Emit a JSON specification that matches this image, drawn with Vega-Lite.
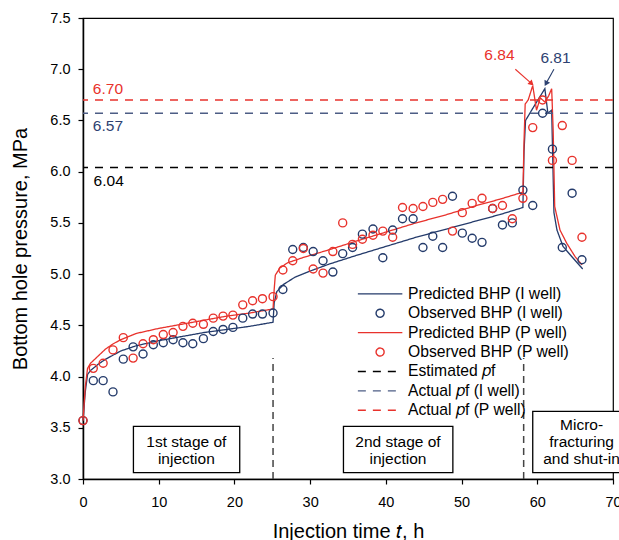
{
  "$schema": "https://vega.github.io/schema/vega-lite/v6.json",
  "width": 530,
  "height": 461,
  "autosize": {"type": "none"},
  "padding": {"left": 83, "top": 18, "right": 6, "bottom": 61},
  "background": "white",
  "config": {
    "view": {"stroke": "#000", "strokeWidth": 1.2},
    "font": "Liberation Sans",
    "axis": {
      "grid": false, "domainColor": "#000", "domainWidth": 1.5, "tickColor": "#000", "tickSize": 5, "tickWidth": 1.2,
      "labelColor": "#000", "labelFont": "Liberation Sans", "labelFontSize": 14.5, "labelPadding": 8, "labelFlush": false,
      "titleColor": "#000", "titleFont": "Liberation Sans", "titleFontSize": 20, "titleFontWeight": "normal"
    },
    "legend": {
      "orient": "none", "legendX": 267, "legendY": 268, "direction": "vertical", "title": null,
      "labelFont": "Liberation Sans", "labelFontSize": 15.7, "labelColor": "#000", "labelLimit": 300,
      "padding": 0, "rowPadding": 2.4, "symbolOffset": 22.25, "labelOffset": 20,
      "symbolSize": 64, "symbolStrokeWidth": 1.4, "symbolFillColor": "transparent"
    }
  },
  "datasets": {
    "pred": [
      {"t": 0, "p": 3.57, "series": "Predicted BHP (I well)"},
      {"t": 0.3, "p": 3.85, "series": "Predicted BHP (I well)"},
      {"t": 0.6, "p": 4.02, "series": "Predicted BHP (I well)"},
      {"t": 1, "p": 4.06, "series": "Predicted BHP (I well)"},
      {"t": 2, "p": 4.12, "series": "Predicted BHP (I well)"},
      {"t": 3, "p": 4.17, "series": "Predicted BHP (I well)"},
      {"t": 4, "p": 4.21, "series": "Predicted BHP (I well)"},
      {"t": 5, "p": 4.25, "series": "Predicted BHP (I well)"},
      {"t": 7, "p": 4.30, "series": "Predicted BHP (I well)"},
      {"t": 10, "p": 4.35, "series": "Predicted BHP (I well)"},
      {"t": 13, "p": 4.39, "series": "Predicted BHP (I well)"},
      {"t": 16, "p": 4.43, "series": "Predicted BHP (I well)"},
      {"t": 19, "p": 4.46, "series": "Predicted BHP (I well)"},
      {"t": 22, "p": 4.49, "series": "Predicted BHP (I well)"},
      {"t": 25.1, "p": 4.53, "series": "Predicted BHP (I well)"},
      {"t": 25.25, "p": 4.72, "series": "Predicted BHP (I well)"},
      {"t": 25.6, "p": 4.83, "series": "Predicted BHP (I well)"},
      {"t": 26.5, "p": 4.90, "series": "Predicted BHP (I well)"},
      {"t": 28, "p": 4.97, "series": "Predicted BHP (I well)"},
      {"t": 30, "p": 5.03, "series": "Predicted BHP (I well)"},
      {"t": 32.6, "p": 5.10, "series": "Predicted BHP (I well)"},
      {"t": 36, "p": 5.18, "series": "Predicted BHP (I well)"},
      {"t": 40, "p": 5.27, "series": "Predicted BHP (I well)"},
      {"t": 44, "p": 5.36, "series": "Predicted BHP (I well)"},
      {"t": 48, "p": 5.44, "series": "Predicted BHP (I well)"},
      {"t": 52, "p": 5.52, "series": "Predicted BHP (I well)"},
      {"t": 55, "p": 5.58, "series": "Predicted BHP (I well)"},
      {"t": 58.1, "p": 5.65, "series": "Predicted BHP (I well)"},
      {"t": 58.25, "p": 6.2, "series": "Predicted BHP (I well)"},
      {"t": 58.45, "p": 6.50, "series": "Predicted BHP (I well)"},
      {"t": 59.5, "p": 6.63, "series": "Predicted BHP (I well)"},
      {"t": 61.0, "p": 6.81, "series": "Predicted BHP (I well)"},
      {"t": 61.4, "p": 6.57, "series": "Predicted BHP (I well)"},
      {"t": 61.9, "p": 6.60, "series": "Predicted BHP (I well)"},
      {"t": 62.05, "p": 6.1, "series": "Predicted BHP (I well)"},
      {"t": 62.2, "p": 5.60, "series": "Predicted BHP (I well)"},
      {"t": 62.6, "p": 5.43, "series": "Predicted BHP (I well)"},
      {"t": 63.4, "p": 5.27, "series": "Predicted BHP (I well)"},
      {"t": 64.8, "p": 5.15, "series": "Predicted BHP (I well)"},
      {"t": 66.0, "p": 5.05, "series": "Predicted BHP (I well)"},
      {"t": 0, "p": 3.57, "series": "Predicted BHP (P well)"},
      {"t": 0.3, "p": 3.9, "series": "Predicted BHP (P well)"},
      {"t": 0.6, "p": 4.08, "series": "Predicted BHP (P well)"},
      {"t": 1, "p": 4.13, "series": "Predicted BHP (P well)"},
      {"t": 2, "p": 4.20, "series": "Predicted BHP (P well)"},
      {"t": 3, "p": 4.27, "series": "Predicted BHP (P well)"},
      {"t": 4, "p": 4.32, "series": "Predicted BHP (P well)"},
      {"t": 5, "p": 4.36, "series": "Predicted BHP (P well)"},
      {"t": 7, "p": 4.42, "series": "Predicted BHP (P well)"},
      {"t": 10, "p": 4.47, "series": "Predicted BHP (P well)"},
      {"t": 13, "p": 4.51, "series": "Predicted BHP (P well)"},
      {"t": 16, "p": 4.55, "series": "Predicted BHP (P well)"},
      {"t": 19, "p": 4.59, "series": "Predicted BHP (P well)"},
      {"t": 22, "p": 4.62, "series": "Predicted BHP (P well)"},
      {"t": 25.1, "p": 4.66, "series": "Predicted BHP (P well)"},
      {"t": 25.25, "p": 4.85, "series": "Predicted BHP (P well)"},
      {"t": 25.4, "p": 4.99, "series": "Predicted BHP (P well)"},
      {"t": 26, "p": 5.06, "series": "Predicted BHP (P well)"},
      {"t": 27, "p": 5.11, "series": "Predicted BHP (P well)"},
      {"t": 29, "p": 5.16, "series": "Predicted BHP (P well)"},
      {"t": 32.6, "p": 5.24, "series": "Predicted BHP (P well)"},
      {"t": 36, "p": 5.32, "series": "Predicted BHP (P well)"},
      {"t": 40, "p": 5.41, "series": "Predicted BHP (P well)"},
      {"t": 44, "p": 5.50, "series": "Predicted BHP (P well)"},
      {"t": 48, "p": 5.58, "series": "Predicted BHP (P well)"},
      {"t": 52, "p": 5.67, "series": "Predicted BHP (P well)"},
      {"t": 55, "p": 5.73, "series": "Predicted BHP (P well)"},
      {"t": 58.1, "p": 5.80, "series": "Predicted BHP (P well)"},
      {"t": 58.25, "p": 6.3, "series": "Predicted BHP (P well)"},
      {"t": 58.4, "p": 6.66, "series": "Predicted BHP (P well)"},
      {"t": 58.8, "p": 6.70, "series": "Predicted BHP (P well)"},
      {"t": 59.4, "p": 6.84, "series": "Predicted BHP (P well)"},
      {"t": 59.9, "p": 6.60, "series": "Predicted BHP (P well)"},
      {"t": 60.4, "p": 6.72, "series": "Predicted BHP (P well)"},
      {"t": 61.0, "p": 6.68, "series": "Predicted BHP (P well)"},
      {"t": 61.5, "p": 6.74, "series": "Predicted BHP (P well)"},
      {"t": 61.9, "p": 6.81, "series": "Predicted BHP (P well)"},
      {"t": 62.1, "p": 6.4, "series": "Predicted BHP (P well)"},
      {"t": 62.3, "p": 5.66, "series": "Predicted BHP (P well)"},
      {"t": 63.0, "p": 5.43, "series": "Predicted BHP (P well)"},
      {"t": 63.9, "p": 5.30, "series": "Predicted BHP (P well)"},
      {"t": 65.0, "p": 5.17, "series": "Predicted BHP (P well)"},
      {"t": 65.9, "p": 5.09, "series": "Predicted BHP (P well)"}
    ],
    "obs": [
      {"t": 0, "p": 3.57, "series": "Observed BHP (I well)"},
      {"t": 1.36, "p": 3.96, "series": "Observed BHP (I well)"},
      {"t": 2.66, "p": 3.96, "series": "Observed BHP (I well)"},
      {"t": 3.96, "p": 3.85, "series": "Observed BHP (I well)"},
      {"t": 5.32, "p": 4.17, "series": "Observed BHP (I well)"},
      {"t": 6.62, "p": 4.29, "series": "Observed BHP (I well)"},
      {"t": 7.93, "p": 4.22, "series": "Observed BHP (I well)"},
      {"t": 9.29, "p": 4.31, "series": "Observed BHP (I well)"},
      {"t": 10.6, "p": 4.33, "series": "Observed BHP (I well)"},
      {"t": 11.9, "p": 4.36, "series": "Observed BHP (I well)"},
      {"t": 13.2, "p": 4.33, "series": "Observed BHP (I well)"},
      {"t": 14.5, "p": 4.32, "series": "Observed BHP (I well)"},
      {"t": 15.9, "p": 4.37, "series": "Observed BHP (I well)"},
      {"t": 17.2, "p": 4.44, "series": "Observed BHP (I well)"},
      {"t": 18.5, "p": 4.46, "series": "Observed BHP (I well)"},
      {"t": 19.8, "p": 4.48, "series": "Observed BHP (I well)"},
      {"t": 21.1, "p": 4.57, "series": "Observed BHP (I well)"},
      {"t": 22.4, "p": 4.61, "series": "Observed BHP (I well)"},
      {"t": 23.7, "p": 4.61, "series": "Observed BHP (I well)"},
      {"t": 25.1, "p": 4.62, "series": "Observed BHP (I well)"},
      {"t": 26.4, "p": 4.85, "series": "Observed BHP (I well)"},
      {"t": 27.7, "p": 5.24, "series": "Observed BHP (I well)"},
      {"t": 29.1, "p": 5.26, "series": "Observed BHP (I well)"},
      {"t": 30.4, "p": 5.22, "series": "Observed BHP (I well)"},
      {"t": 31.7, "p": 5.13, "series": "Observed BHP (I well)"},
      {"t": 33.0, "p": 5.02, "series": "Observed BHP (I well)"},
      {"t": 34.3, "p": 5.20, "series": "Observed BHP (I well)"},
      {"t": 35.6, "p": 5.26, "series": "Observed BHP (I well)"},
      {"t": 36.9, "p": 5.39, "series": "Observed BHP (I well)"},
      {"t": 38.3, "p": 5.44, "series": "Observed BHP (I well)"},
      {"t": 39.6, "p": 5.16, "series": "Observed BHP (I well)"},
      {"t": 40.9, "p": 5.43, "series": "Observed BHP (I well)"},
      {"t": 42.2, "p": 5.54, "series": "Observed BHP (I well)"},
      {"t": 43.6, "p": 5.54, "series": "Observed BHP (I well)"},
      {"t": 44.9, "p": 5.26, "series": "Observed BHP (I well)"},
      {"t": 46.2, "p": 5.37, "series": "Observed BHP (I well)"},
      {"t": 47.5, "p": 5.26, "series": "Observed BHP (I well)"},
      {"t": 48.8, "p": 5.76, "series": "Observed BHP (I well)"},
      {"t": 50.1, "p": 5.40, "series": "Observed BHP (I well)"},
      {"t": 51.4, "p": 5.35, "series": "Observed BHP (I well)"},
      {"t": 52.7, "p": 5.31, "series": "Observed BHP (I well)"},
      {"t": 54.1, "p": 5.64, "series": "Observed BHP (I well)"},
      {"t": 55.4, "p": 5.48, "series": "Observed BHP (I well)"},
      {"t": 56.7, "p": 5.50, "series": "Observed BHP (I well)"},
      {"t": 58.1, "p": 5.82, "series": "Observed BHP (I well)"},
      {"t": 59.4, "p": 5.67, "series": "Observed BHP (I well)"},
      {"t": 60.7, "p": 6.57, "series": "Observed BHP (I well)"},
      {"t": 62.0, "p": 6.22, "series": "Observed BHP (I well)"},
      {"t": 63.3, "p": 5.26, "series": "Observed BHP (I well)"},
      {"t": 64.6, "p": 5.79, "series": "Observed BHP (I well)"},
      {"t": 65.9, "p": 5.14, "series": "Observed BHP (I well)"},
      {"t": 0, "p": 3.57, "series": "Observed BHP (P well)"},
      {"t": 1.36, "p": 4.08, "series": "Observed BHP (P well)"},
      {"t": 2.66, "p": 4.13, "series": "Observed BHP (P well)"},
      {"t": 3.96, "p": 4.26, "series": "Observed BHP (P well)"},
      {"t": 5.32, "p": 4.38, "series": "Observed BHP (P well)"},
      {"t": 6.62, "p": 4.18, "series": "Observed BHP (P well)"},
      {"t": 7.93, "p": 4.32, "series": "Observed BHP (P well)"},
      {"t": 9.29, "p": 4.36, "series": "Observed BHP (P well)"},
      {"t": 10.6, "p": 4.41, "series": "Observed BHP (P well)"},
      {"t": 11.9, "p": 4.43, "series": "Observed BHP (P well)"},
      {"t": 13.2, "p": 4.49, "series": "Observed BHP (P well)"},
      {"t": 14.5, "p": 4.52, "series": "Observed BHP (P well)"},
      {"t": 15.9, "p": 4.51, "series": "Observed BHP (P well)"},
      {"t": 17.2, "p": 4.57, "series": "Observed BHP (P well)"},
      {"t": 18.5, "p": 4.59, "series": "Observed BHP (P well)"},
      {"t": 19.8, "p": 4.60, "series": "Observed BHP (P well)"},
      {"t": 21.1, "p": 4.70, "series": "Observed BHP (P well)"},
      {"t": 22.4, "p": 4.74, "series": "Observed BHP (P well)"},
      {"t": 23.7, "p": 4.76, "series": "Observed BHP (P well)"},
      {"t": 25.1, "p": 4.78, "series": "Observed BHP (P well)"},
      {"t": 26.4, "p": 5.04, "series": "Observed BHP (P well)"},
      {"t": 27.7, "p": 5.13, "series": "Observed BHP (P well)"},
      {"t": 29.1, "p": 5.25, "series": "Observed BHP (P well)"},
      {"t": 30.4, "p": 5.05, "series": "Observed BHP (P well)"},
      {"t": 31.7, "p": 5.01, "series": "Observed BHP (P well)"},
      {"t": 33.0, "p": 5.22, "series": "Observed BHP (P well)"},
      {"t": 34.3, "p": 5.50, "series": "Observed BHP (P well)"},
      {"t": 35.6, "p": 5.29, "series": "Observed BHP (P well)"},
      {"t": 36.9, "p": 5.34, "series": "Observed BHP (P well)"},
      {"t": 38.3, "p": 5.38, "series": "Observed BHP (P well)"},
      {"t": 39.6, "p": 5.42, "series": "Observed BHP (P well)"},
      {"t": 40.9, "p": 5.36, "series": "Observed BHP (P well)"},
      {"t": 42.2, "p": 5.65, "series": "Observed BHP (P well)"},
      {"t": 43.6, "p": 5.64, "series": "Observed BHP (P well)"},
      {"t": 44.9, "p": 5.66, "series": "Observed BHP (P well)"},
      {"t": 46.2, "p": 5.70, "series": "Observed BHP (P well)"},
      {"t": 47.5, "p": 5.73, "series": "Observed BHP (P well)"},
      {"t": 48.8, "p": 5.42, "series": "Observed BHP (P well)"},
      {"t": 50.1, "p": 5.60, "series": "Observed BHP (P well)"},
      {"t": 51.4, "p": 5.69, "series": "Observed BHP (P well)"},
      {"t": 52.7, "p": 5.74, "series": "Observed BHP (P well)"},
      {"t": 54.1, "p": 5.64, "series": "Observed BHP (P well)"},
      {"t": 55.4, "p": 5.67, "series": "Observed BHP (P well)"},
      {"t": 56.7, "p": 5.54, "series": "Observed BHP (P well)"},
      {"t": 58.1, "p": 5.74, "series": "Observed BHP (P well)"},
      {"t": 59.4, "p": 6.43, "series": "Observed BHP (P well)"},
      {"t": 60.7, "p": 6.70, "series": "Observed BHP (P well)"},
      {"t": 62.0, "p": 6.11, "series": "Observed BHP (P well)"},
      {"t": 63.3, "p": 6.45, "series": "Observed BHP (P well)"},
      {"t": 64.6, "p": 6.11, "series": "Observed BHP (P well)"},
      {"t": 65.9, "p": 5.36, "series": "Observed BHP (P well)"}
    ],
    "thr": [
      {"p": 6.70, "series": "Actual 𝑝f (P well)"},
      {"p": 6.57, "series": "Actual 𝑝f (I well)"},
      {"p": 6.04, "series": "Estimated 𝑝f"}
    ],
    "labels": [
      {"t": 1.3, "p": 6.81, "label": "6.70", "well": "P"},
      {"t": 1.3, "p": 6.45, "label": "6.57", "well": "I"},
      {"t": 1.4, "p": 5.91, "label": "6.04", "well": "E"}
    ],
    "vlines": [
      {"t": 25.1, "p0": 3.0, "p1": 4.18},
      {"t": 58.2, "p0": 3.0, "p1": 4.18}
    ],
    "peaks": [
      {"well": "P", "label": "6.84", "lt": 55.0, "lp": 7.14, "t0": 57.1, "p0": 7.0, "t1": 59.25, "p1": 6.86},
      {"well": "I", "label": "6.81", "lt": 62.4, "lp": 7.11, "t0": 62.2, "p0": 7.0, "t1": 61.15, "p1": 6.86}
    ],
    "boxes": [
      {"t1": 6.66, "t2": 20.7, "p1": 3.063, "p2": 3.514, "tc": 13.65, "pc": 3.363, "text": "1st stage of\ninjection"},
      {"t1": 34.4, "t2": 48.85, "p1": 3.063, "p2": 3.514, "tc": 41.6, "pc": 3.363, "text": "2nd stage of\ninjection"},
      {"t1": 59.4, "t2": 73, "p1": 3.063, "p2": 3.66, "tc": 65.85, "pc": 3.524, "text": "Micro-\nfracturing\nand shut-in"}
    ]
  },
  "layer": [
    {
      "data": {"name": "pred"},
      "mark": {"type": "line", "strokeWidth": 1.3},
      "encoding": {
        "x": {
          "field": "t", "type": "quantitative",
          "scale": {"domain": [0, 70], "nice": false, "zero": false},
          "axis": {"values": [0, 10, 20, 30, 40, 50, 60, 70], "title": "Injection time 𝑡, h", "titlePadding": 13, "labelPadding": 11}
        },
        "y": {
          "field": "p", "type": "quantitative",
          "scale": {"domain": [3, 7.5], "nice": false, "zero": false},
          "axis": {"values": [3, 3.5, 4, 4.5, 5, 5.5, 6, 6.5, 7, 7.5], "format": ".1f", "title": "Bottom hole pressure, MPa", "titlePadding": 19}
        },
        "color": {
          "field": "series", "type": "nominal",
          "scale": {
            "domain": ["Predicted BHP (I well)", "Observed BHP (I well)", "Predicted BHP (P well)", "Observed BHP (P well)", "Estimated 𝑝f", "Actual 𝑝f (I well)", "Actual 𝑝f (P well)"],
            "range": ["#243b6b", "#243b6b", "#e8322c", "#e8322c", "#000000", "#4d5d85", "#e8322c"]
          }
        },
        "strokeDash": {
          "field": "series", "type": "nominal",
          "scale": {
            "domain": ["Predicted BHP (I well)", "Observed BHP (I well)", "Predicted BHP (P well)", "Observed BHP (P well)", "Estimated 𝑝f", "Actual 𝑝f (I well)", "Actual 𝑝f (P well)"],
            "range": [[1, 0], [1, 0], [1, 0], [1, 0], [8, 7], [8, 7], [8, 7]]
          }
        }
      }
    },
    {
      "data": {"name": "thr"},
      "mark": {"type": "rule", "strokeWidth": 1.4},
      "encoding": {
        "y": {"field": "p", "type": "quantitative"},
        "color": {"field": "series", "type": "nominal"},
        "strokeDash": {"field": "series", "type": "nominal"}
      }
    },
    {
      "data": {"name": "vlines"},
      "mark": {"type": "rule", "strokeDash": [7, 5], "strokeWidth": 1.5, "color": "#444"},
      "encoding": {
        "x": {"field": "t", "type": "quantitative"},
        "y": {"field": "p0", "type": "quantitative"},
        "y2": {"field": "p1"}
      }
    },
    {
      "data": {"name": "obs"},
      "mark": {"type": "point", "filled": false, "size": 64, "strokeWidth": 1.4, "opacity": 1},
      "encoding": {
        "x": {"field": "t", "type": "quantitative"},
        "y": {"field": "p", "type": "quantitative"},
        "color": {"field": "series", "type": "nominal"},
        "shape": {
          "field": "series", "type": "nominal",
          "scale": {
            "domain": ["Predicted BHP (I well)", "Observed BHP (I well)", "Predicted BHP (P well)", "Observed BHP (P well)", "Estimated 𝑝f", "Actual 𝑝f (I well)", "Actual 𝑝f (P well)"],
            "range": ["M-5.56,0H5.56", "circle", "M-5.56,0H5.56", "circle", "M-5.56,0H5.56", "M-5.56,0H5.56", "M-5.56,0H5.56"]
          }
        }
      }
    },
    {
      "data": {"name": "labels"},
      "mark": {"type": "text", "align": "left", "baseline": "middle", "fontSize": 15.5, "font": "Liberation Sans"},
      "encoding": {
        "x": {"field": "t", "type": "quantitative"},
        "y": {"field": "p", "type": "quantitative"},
        "text": {"field": "label"},
        "fill": {"field": "well", "type": "nominal", "legend": null,
          "scale": {"domain": ["P", "I", "E"], "range": ["#e8322c", "#2e4272", "#000000"]}}
      }
    },
    {
      "data": {"name": "peaks"},
      "mark": {"type": "text", "align": "center", "baseline": "middle", "fontSize": 15.5, "font": "Liberation Sans"},
      "encoding": {
        "x": {"field": "lt", "type": "quantitative"},
        "y": {"field": "lp", "type": "quantitative"},
        "text": {"field": "label"},
        "fill": {"field": "well", "type": "nominal", "legend": null}
      }
    },
    {
      "data": {"name": "peaks"},
      "mark": {"type": "rule", "strokeWidth": 1.1},
      "encoding": {
        "x": {"field": "t0", "type": "quantitative"},
        "y": {"field": "p0", "type": "quantitative"},
        "x2": {"field": "t1"},
        "y2": {"field": "p1"},
        "stroke": {"field": "well", "type": "nominal", "legend": null,
          "scale": {"domain": ["P", "I"], "range": ["#e8322c", "#243b6b"]}}
      }
    },
    {
      "data": {"name": "peaks"},
      "transform": [{"filter": "datum.label == '6.84'"}],
      "mark": {"type": "point", "shape": "triangle-up", "filled": true, "size": 40, "angle": 133, "opacity": 1},
      "encoding": {
        "x": {"field": "t1", "type": "quantitative"},
        "y": {"field": "p1", "type": "quantitative"},
        "fill": {"field": "well", "type": "nominal", "legend": null}
      }
    },
    {
      "data": {"name": "peaks"},
      "transform": [{"filter": "datum.label == '6.81'"}],
      "mark": {"type": "point", "shape": "triangle-up", "filled": true, "size": 40, "angle": 208, "opacity": 1},
      "encoding": {
        "x": {"field": "t1", "type": "quantitative"},
        "y": {"field": "p1", "type": "quantitative"},
        "fill": {"field": "well", "type": "nominal", "legend": null}
      }
    },
    {
      "data": {"name": "boxes"},
      "mark": {"type": "rect", "fill": "white", "stroke": "#000", "strokeWidth": 1.3},
      "encoding": {
        "x": {"field": "t1", "type": "quantitative"},
        "x2": {"field": "t2"},
        "y": {"field": "p1", "type": "quantitative"},
        "y2": {"field": "p2"}
      }
    },
    {
      "data": {"name": "boxes"},
      "mark": {"type": "text", "align": "center", "baseline": "middle", "fontSize": 15.5, "font": "Liberation Sans", "lineBreak": "\n", "lineHeight": 17, "color": "#000"},
      "encoding": {
        "x": {"field": "tc", "type": "quantitative"},
        "y": {"field": "pc", "type": "quantitative"},
        "text": {"field": "text"}
      }
    }
  ]
}
